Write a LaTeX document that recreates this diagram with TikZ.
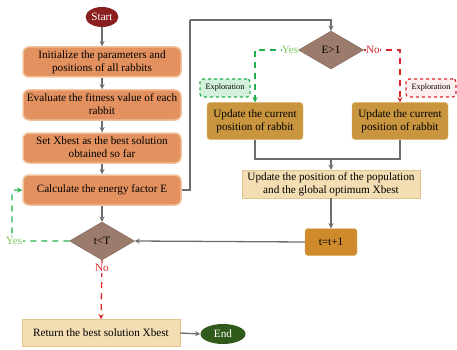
\documentclass[tikz,border=0pt]{standalone}
\usepackage{fontspec}
\setmainfont{Liberation Serif}
\usetikzlibrary{arrows,shapes,shapes.geometric}
\definecolor{startred}{HTML}{8B1E1E}
\definecolor{endgreen}{HTML}{2F5A1A}
\definecolor{stepfill}{HTML}{E3915F}
\definecolor{stepline}{HTML}{F2C09A}
\definecolor{goldfill}{HTML}{C9963F}
\definecolor{goldline}{HTML}{E3BD75}
\definecolor{tanfill}{HTML}{F3DDB3}
\definecolor{tanline}{HTML}{E3C590}
\definecolor{incfill}{HTML}{CF8A2C}
\definecolor{decfill}{HTML}{9B7B6B}
\definecolor{flowgray}{HTML}{6E6E6E}
\definecolor{yesgreen}{HTML}{22B24C}
\definecolor{yestext}{HTML}{7CC95A}
\definecolor{nored}{HTML}{D8262B}
\newcommand{\twoline}[2]{\begin{tabular}{@{}c@{}}#1\\#2\end{tabular}}

\begin{document}
\begin{tikzpicture}[x=1pt,y=-1pt,>=stealth]
      \tikzstyle{every node}=[font=\fontsize{11.2}{13}\selectfont, inner sep=1pt]
      \tikzstyle{terminal}=[ellipse, text=white, minimum width=31pt, minimum height=20pt]
      \tikzstyle{stepbox}=[rectangle, rounded corners=6pt, fill=stepfill, draw=stepline,
        line width=1.5pt, minimum width=158pt, minimum height=30pt]
      \tikzstyle{goldbox}=[rectangle, rounded corners=3pt, fill=goldfill, draw=goldline,
        minimum width=96pt, minimum height=37pt]
      \tikzstyle{tanbox}=[rectangle, fill=tanfill, draw=tanline]
      \tikzstyle{decision}=[diamond, fill=decfill, draw=decfill!80!black, inner sep=0pt,
        minimum width=65pt, minimum height=38pt]
      \tikzstyle{tag}=[rectangle, rounded corners=3pt, dashed, line width=1.2pt,
        minimum width=50pt, minimum height=18pt, font=\fontsize{8.2}{9}\selectfont]
      \tikzstyle{flow}=[flowgray, line width=1.3pt]
      \tikzstyle{yesflow}=[yesgreen, line width=1.3pt, dash pattern=on 6pt off 5pt]
      \tikzstyle{noflow}=[nored, line width=1.3pt, dash pattern=on 6pt off 5pt]

      \useasboundingbox (0,0) rectangle (457,350);

      % left column
      \node[terminal, fill=startred] (start) at (102,17) {Start};
      \node[stepbox] (init) at (102,62) {\twoline{Initialize the parameters and}{positions of all rabbits}};
      \node[stepbox] (fit) at (102,105) {\twoline{Evaluate the fitness value of each}{rabbit}};
      \node[stepbox] (best) at (102,148) {\twoline{Set Xbest as the best solution}{obtained so far}};
      \node[stepbox] (energy) at (102,190) {Calculate the energy factor E};
      \node[decision] (loop) at (102,241) {t\textless T};
      \node[tanbox, minimum width=158pt, minimum height=27pt] (ret) at (101,333)
        {Return the best solution Xbest};
      \node[terminal, fill=endgreen, minimum width=45pt] (end) at (223,334) {End};

      % right column
      \node[decision] (test) at (331,50) {E\textgreater 1};
      \node[goldbox] (upleft) at (255,121) {\twoline{Update the current}{position of rabbit}};
      \node[goldbox] (upright) at (400,121) {\twoline{Update the current}{position of rabbit}};
      \node[tag, draw=yesgreen, fill=yesgreen!20] (expl) at (225,88) {Exploration};
      \node[tag, draw=nored, fill=nored!8] (expr) at (431,88) {Exploration};
      \node[tanbox, minimum width=178pt, minimum height=28pt] (pop) at (331,184)
        {\twoline{Update the position of the population}{and the global optimum Xbest}};
      \node[rectangle, rounded corners=3pt, fill=incfill, draw=incfill!70!white,
        minimum width=52pt, minimum height=27pt] (inc) at (331,242) {t=t+1};

      \coordinate (top) at (190,20);
      \coordinate (join) at (331,159);
      \coordinate (back) at (12,241);

      \foreach \a/\b in {start/init, init/fit, fit/best, best/energy, energy/loop, pop/inc}
        \draw[flow,->] (\a) -- (\b);
      \draw[flow] (energy.east) -| (top);
      \draw[flow,->] (top) -| (test.north);
      \draw[flow] (upleft.south) |- (join);
      \draw[flow] (upright.south) |- (join);
      \draw[flow,->] (join) -- (pop.north);
      \draw[flow,->] (inc.west) -- (loop.east);
      \draw[flow,->] (ret.east) -- (end.west);

      \draw[yesflow,->] (test.west) -| (upleft.north);
      \draw[noflow,->] (test.east) -| (upright.north);
      \node[text=yestext, fill=white, inner sep=0pt] at (290,50) {Yes};
      \node[text=nored, fill=white, inner sep=0pt] at (373,50) {No};

      \draw[yesflow,->, rounded corners=3pt] (loop.west) -| (back) |- (energy.west);
      \node[text=yestext, fill=white] at (14,241) {Yes};
      \draw[noflow,->] (loop.south) -- (ret.north);
      \node[text=nored, fill=white] at (102,268) {No};
\end{tikzpicture}
\end{document}
